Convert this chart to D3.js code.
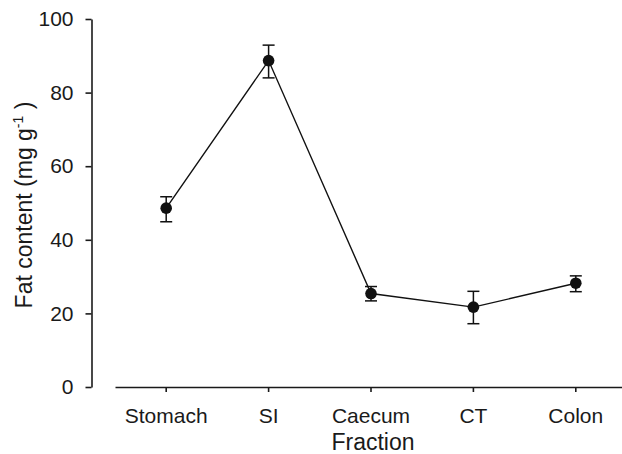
<!DOCTYPE html>
<html>
<head>
<meta charset="utf-8">
<script src="https://cdn.jsdelivr.net/npm/d3@7"></script>
<style>
  body { margin: 0; background: #fff; }
  text { font-family: "Liberation Sans", Arial, Helvetica, sans-serif; fill: #1a1a1a; }
</style>
</head>
<body>
<script>
// data
var fractions = ["Stomach", "SI", "Caecum", "CT", "Colon"];
var fatMean  = [48.6, 88.7, 25.4, 21.7, 28.2];
var fatUpper = [51.7, 92.9, 27.3, 26.0, 30.2];
var fatLower = [44.9, 84.0, 23.4, 17.2, 25.9];
var yTicks = [0, 20, 40, 60, 80, 100];

window.onload = function(){

    var w = 622, h = 454;

    var svg = d3.select("body")
        .append("svg")
        .attr("width", w)
        .attr("height", h);

    var x = d3.scaleBand()
        .domain(fractions)
        .range([115, 627]);

    var y = d3.scaleLinear()
        .domain([0, 100])
        .range([387, 19]);

    var pts = fractions.map(function(f, i){
        return {name: f, mean: fatMean[i], hi: fatUpper[i], lo: fatLower[i]};
    });
    var cx = function(d){ return x(d.name) + x.bandwidth() / 2; };

    // y axis
    var yAxis = svg.append("g")
        .attr("transform", "translate(91.5,0)")
        .call(d3.axisLeft(y).tickValues(yTicks).tickSize(6).tickPadding(12).tickSizeOuter(0));
    yAxis.selectAll("text").style("font-size", "21px");

    // x axis (detached from y axis)
    var xAxis = svg.append("g")
        .attr("transform", "translate(0,387)")
        .call(d3.axisBottom(x).tickSize(5).tickPadding(16).tickSizeOuter(0));
    xAxis.selectAll("text").style("font-size", "21px");

    svg.selectAll(".domain, .tick line")
        .attr("stroke", "#1a1a1a")
        .attr("stroke-width", 1.6);

    // connecting line
    svg.append("path")
        .datum(pts)
        .attr("fill", "none")
        .attr("stroke", "#111")
        .attr("stroke-width", 1.4)
        .attr("d", d3.line().x(cx).y(function(d){ return y(d.mean); }));

    // error bars
    var eb = svg.append("g").attr("stroke", "#111").attr("stroke-width", 1.5);
    eb.selectAll(".stem").data(pts).enter().append("line")
        .attr("x1", cx).attr("x2", cx)
        .attr("y1", function(d){ return y(d.hi); })
        .attr("y2", function(d){ return y(d.lo); });
    eb.selectAll(".capHi").data(pts).enter().append("line")
        .attr("x1", function(d){ return cx(d) - 6; })
        .attr("x2", function(d){ return cx(d) + 6; })
        .attr("y1", function(d){ return y(d.hi); })
        .attr("y2", function(d){ return y(d.hi); });
    eb.selectAll(".capLo").data(pts).enter().append("line")
        .attr("x1", function(d){ return cx(d) - 6; })
        .attr("x2", function(d){ return cx(d) + 6; })
        .attr("y1", function(d){ return y(d.lo); })
        .attr("y2", function(d){ return y(d.lo); });

    // points
    svg.selectAll(".pt").data(pts).enter().append("circle")
        .attr("cx", cx)
        .attr("cy", function(d){ return y(d.mean); })
        .attr("r", 5.8)
        .attr("fill", "#111");

    // axis titles
    svg.append("text")
        .attr("x", x("Caecum") + x.bandwidth() / 2 + 2)
        .attr("y", 450)
        .attr("text-anchor", "middle")
        .style("font-size", "23px")
        .text("Fraction");

    var yt = svg.append("text")
        .attr("transform", "translate(32,205) rotate(-90)")
        .attr("text-anchor", "middle")
        .style("font-size", "23px");
    yt.append("tspan").text("Fat content (mg g");
    yt.append("tspan").attr("dy", -9).style("font-size", "14px").text("-1");
    yt.append("tspan").attr("dy", 9).text(" )");
}
</script>
</body>
</html>
